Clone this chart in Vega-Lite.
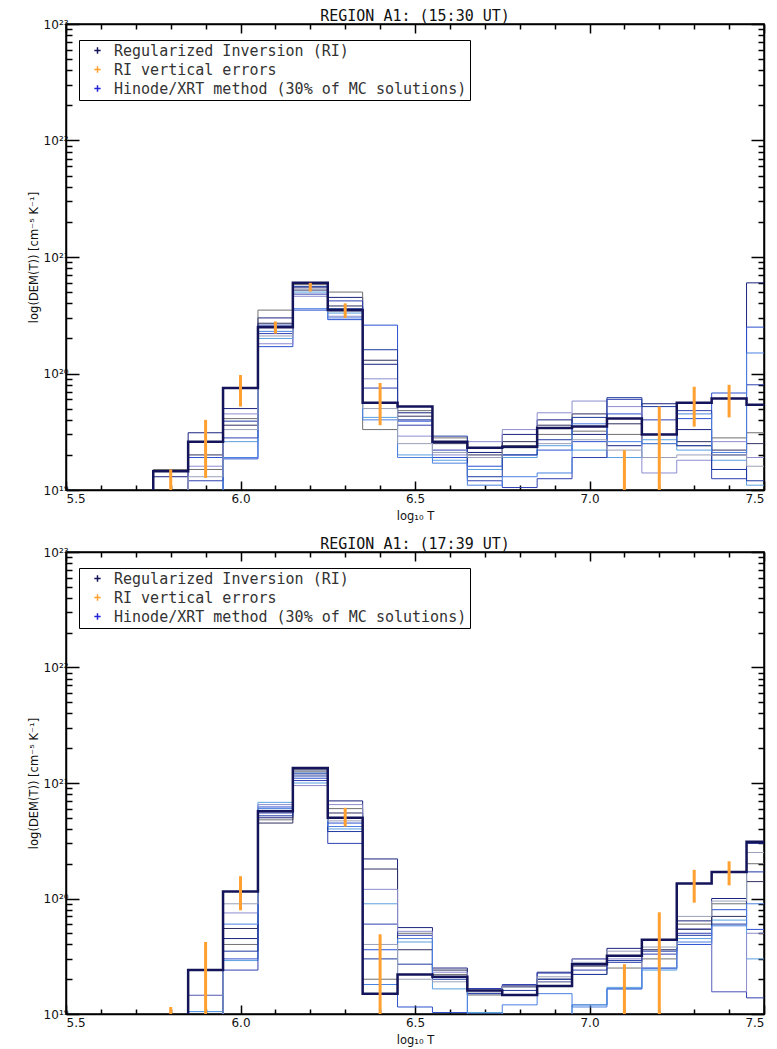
{
  "$schema": "https://vega.github.io/schema/vega-lite/v6.json",
  "background": "white",
  "padding": {"left": 27, "right": 8, "top": 8, "bottom": 2},
  "config": {
    "view": {"stroke": "black", "strokeWidth": 1.5},
    "font": "DejaVu Sans",
    "title": {"fontSize": 15, "fontWeight": "normal", "offset": -6, "color": "#111", "font": "DejaVu Sans Mono"},
    "axis": {"labelFont": "DejaVu Sans", "labelFontSize": 12, "titleFont": "DejaVu Sans", "titleFontSize": 11.5, "titleFontWeight": "normal", "domainColor": "black", "domainWidth": 1.5, "tickColor": "black", "tickWidth": 1.5, "grid": false, "labelColor": "#111", "titleColor": "#111"},
    "legend": {"orient": "none", "legendX": 13, "legendY": 16, "strokeColor": "black", "fillColor": "white", "padding": 3, "labelFontSize": 15, "labelFont": "DejaVu Sans Mono", "labelColor": "#333", "labelLimit": 600, "symbolType": "M-1,0H1M0,-1V1", "symbolSize": 40, "symbolStrokeWidth": 1.5, "rowPadding": 3, "labelOffset": 9, "symbolOffset": 8},
    "concat": {"spacing": 13}
  },
  "datasets": {
    "top": [
      {"s":"RI","T":5.65,"v":5e18},{"s":"RI","T":5.75,"v":1.45e19},{"s":"RI","T":5.85,"v":2.6e19},{"s":"RI","T":5.95,"v":7.5e19},{"s":"RI","T":6.05,"v":2.5e20},{"s":"RI","T":6.15,"v":6e20},{"s":"RI","T":6.25,"v":3.5e20},{"s":"RI","T":6.35,"v":5.6e19},{"s":"RI","T":6.45,"v":5.2e19},{"s":"RI","T":6.55,"v":2.6e19},{"s":"RI","T":6.65,"v":2.3e19},{"s":"RI","T":6.75,"v":2.35e19},{"s":"RI","T":6.85,"v":3.4e19},{"s":"RI","T":6.95,"v":3.5e19},{"s":"RI","T":7.05,"v":4.1e19},{"s":"RI","T":7.15,"v":3e19},{"s":"RI","T":7.25,"v":5.6e19},{"s":"RI","T":7.35,"v":6.1e19},{"s":"RI","T":7.45,"v":5.4e19},{"s":"RI","T":7.55,"v":5.4e19},
      {"s":"c1","T":5.65,"v":5e18},{"s":"c1","T":5.75,"v":1.3e19},{"s":"c1","T":5.85,"v":3.1e19},{"s":"c1","T":5.95,"v":5e19},{"s":"c1","T":6.05,"v":3e20},{"s":"c1","T":6.15,"v":5.5e20},{"s":"c1","T":6.25,"v":4.5e20},{"s":"c1","T":6.35,"v":1.2e20},{"s":"c1","T":6.45,"v":4.6e19},{"s":"c1","T":6.55,"v":2.6e19},{"s":"c1","T":6.65,"v":2.1e19},{"s":"c1","T":6.75,"v":3e19},{"s":"c1","T":6.85,"v":4e19},{"s":"c1","T":6.95,"v":3e19},{"s":"c1","T":7.05,"v":2.4e19},{"s":"c1","T":7.15,"v":5.5e19},{"s":"c1","T":7.25,"v":3.3e19},{"s":"c1","T":7.35,"v":2e19},{"s":"c1","T":7.45,"v":6e20},{"s":"c1","T":7.55,"v":6e20},
      {"s":"c2","T":5.65,"v":5e18},{"s":"c2","T":5.75,"v":5e18},{"s":"c2","T":5.85,"v":1.9e19},{"s":"c2","T":5.95,"v":1.85e19},{"s":"c2","T":6.05,"v":1.7e20},{"s":"c2","T":6.15,"v":3.5e20},{"s":"c2","T":6.25,"v":2.9e20},{"s":"c2","T":6.35,"v":2.6e20},{"s":"c2","T":6.45,"v":3.9e19},{"s":"c2","T":6.55,"v":1.9e19},{"s":"c2","T":6.65,"v":1.6e19},{"s":"c2","T":6.75,"v":2e19},{"s":"c2","T":6.85,"v":2.2e19},{"s":"c2","T":6.95,"v":2.6e19},{"s":"c2","T":7.05,"v":4.5e19},{"s":"c2","T":7.15,"v":3e19},{"s":"c2","T":7.25,"v":4.1e19},{"s":"c2","T":7.35,"v":6.8e19},{"s":"c2","T":7.45,"v":2.5e20},{"s":"c2","T":7.55,"v":2.5e20},
      {"s":"c3","T":5.65,"v":5e18},{"s":"c3","T":5.75,"v":1.5e19},{"s":"c3","T":5.85,"v":1.5e19},{"s":"c3","T":5.95,"v":4.1e19},{"s":"c3","T":6.05,"v":3.5e20},{"s":"c3","T":6.15,"v":5.8e20},{"s":"c3","T":6.25,"v":5e20},{"s":"c3","T":6.35,"v":3.3e19},{"s":"c3","T":6.45,"v":4.8e19},{"s":"c3","T":6.55,"v":2.8e19},{"s":"c3","T":6.65,"v":2.3e19},{"s":"c3","T":6.75,"v":2.4e19},{"s":"c3","T":6.85,"v":3e19},{"s":"c3","T":6.95,"v":3.2e19},{"s":"c3","T":7.05,"v":3e19},{"s":"c3","T":7.15,"v":2.5e19},{"s":"c3","T":7.25,"v":2.4e19},{"s":"c3","T":7.35,"v":2.8e19},{"s":"c3","T":7.45,"v":3.1e19},{"s":"c3","T":7.55,"v":3.1e19},
      {"s":"c4","T":5.65,"v":5e18},{"s":"c4","T":5.75,"v":5e18},{"s":"c4","T":5.85,"v":5e18},{"s":"c4","T":5.95,"v":2.6e19},{"s":"c4","T":6.05,"v":2e20},{"s":"c4","T":6.15,"v":5e20},{"s":"c4","T":6.25,"v":3.3e20},{"s":"c4","T":6.35,"v":4.2e19},{"s":"c4","T":6.45,"v":2e19},{"s":"c4","T":6.55,"v":1.8e19},{"s":"c4","T":6.65,"v":1.5e19},{"s":"c4","T":6.75,"v":1.9e19},{"s":"c4","T":6.85,"v":2.4e19},{"s":"c4","T":6.95,"v":2.2e19},{"s":"c4","T":7.05,"v":1.9e19},{"s":"c4","T":7.15,"v":2.7e19},{"s":"c4","T":7.25,"v":2.2e19},{"s":"c4","T":7.35,"v":1.8e19},{"s":"c4","T":7.45,"v":1.1e19},{"s":"c4","T":7.55,"v":1.1e19},
      {"s":"c5","T":5.65,"v":5e18},{"s":"c5","T":5.75,"v":5e18},{"s":"c5","T":5.85,"v":2e19},{"s":"c5","T":5.95,"v":3.6e19},{"s":"c5","T":6.05,"v":2.7e20},{"s":"c5","T":6.15,"v":5.2e20},{"s":"c5","T":6.25,"v":3.8e20},{"s":"c5","T":6.35,"v":1.3e20},{"s":"c5","T":6.45,"v":4.3e19},{"s":"c5","T":6.55,"v":2.5e19},{"s":"c5","T":6.65,"v":2e19},{"s":"c5","T":6.75,"v":2.6e19},{"s":"c5","T":6.85,"v":3.6e19},{"s":"c5","T":6.95,"v":4.5e19},{"s":"c5","T":7.05,"v":3.7e19},{"s":"c5","T":7.15,"v":3e19},{"s":"c5","T":7.25,"v":2.6e19},{"s":"c5","T":7.35,"v":2.2e19},{"s":"c5","T":7.45,"v":2.5e19},{"s":"c5","T":7.55,"v":2.5e19},
      {"s":"c6","T":5.65,"v":5e18},{"s":"c6","T":5.75,"v":5e18},{"s":"c6","T":5.85,"v":1.2e19},{"s":"c6","T":5.95,"v":2.8e19},{"s":"c6","T":6.05,"v":2.2e20},{"s":"c6","T":6.15,"v":4.8e20},{"s":"c6","T":6.25,"v":4.2e20},{"s":"c6","T":6.35,"v":7.5e19},{"s":"c6","T":6.45,"v":3.6e19},{"s":"c6","T":6.55,"v":2.2e19},{"s":"c6","T":6.65,"v":1.2e19},{"s":"c6","T":6.75,"v":1.05e19},{"s":"c6","T":6.85,"v":1.25e19},{"s":"c6","T":6.95,"v":1.9e19},{"s":"c6","T":7.05,"v":6e19},{"s":"c6","T":7.15,"v":4e19},{"s":"c6","T":7.25,"v":4.8e19},{"s":"c6","T":7.35,"v":1.25e19},{"s":"c6","T":7.45,"v":8e19},{"s":"c6","T":7.55,"v":8e19},
      {"s":"c7","T":5.65,"v":5e18},{"s":"c7","T":5.75,"v":5e18},{"s":"c7","T":5.85,"v":1.6e19},{"s":"c7","T":5.95,"v":4.5e19},{"s":"c7","T":6.05,"v":1.8e20},{"s":"c7","T":6.15,"v":4.6e20},{"s":"c7","T":6.25,"v":3.1e20},{"s":"c7","T":6.35,"v":9e19},{"s":"c7","T":6.45,"v":2.9e19},{"s":"c7","T":6.55,"v":2e19},{"s":"c7","T":6.65,"v":2.6e19},{"s":"c7","T":6.75,"v":3.3e19},{"s":"c7","T":6.85,"v":4.6e19},{"s":"c7","T":6.95,"v":5.8e19},{"s":"c7","T":7.05,"v":5.2e19},{"s":"c7","T":7.15,"v":1.4e19},{"s":"c7","T":7.25,"v":1.8e19},{"s":"c7","T":7.35,"v":2.6e19},{"s":"c7","T":7.45,"v":1.9e19},{"s":"c7","T":7.55,"v":1.9e19},
      {"s":"c8","T":5.65,"v":5e18},{"s":"c8","T":5.75,"v":5e18},{"s":"c8","T":5.85,"v":5e18},{"s":"c8","T":5.95,"v":3.9e19},{"s":"c8","T":6.05,"v":2.6e20},{"s":"c8","T":6.15,"v":5.6e20},{"s":"c8","T":6.25,"v":3.6e20},{"s":"c8","T":6.35,"v":1.6e20},{"s":"c8","T":6.45,"v":4e19},{"s":"c8","T":6.55,"v":2.9e19},{"s":"c8","T":6.65,"v":1.3e19},{"s":"c8","T":6.75,"v":2e19},{"s":"c8","T":6.85,"v":2.7e19},{"s":"c8","T":6.95,"v":4.2e19},{"s":"c8","T":7.05,"v":6.2e19},{"s":"c8","T":7.15,"v":5.2e19},{"s":"c8","T":7.25,"v":2.4e19},{"s":"c8","T":7.35,"v":1.5e19},{"s":"c8","T":7.45,"v":1.2e19},{"s":"c8","T":7.55,"v":1.2e19},
      {"s":"c9","T":5.65,"v":5e18},{"s":"c9","T":5.75,"v":5e18},{"s":"c9","T":5.85,"v":5e18},{"s":"c9","T":5.95,"v":1.9e19},{"s":"c9","T":6.05,"v":2.3e20},{"s":"c9","T":6.15,"v":3.6e20},{"s":"c9","T":6.25,"v":3e20},{"s":"c9","T":6.35,"v":4e19},{"s":"c9","T":6.45,"v":1.9e19},{"s":"c9","T":6.55,"v":1.7e19},{"s":"c9","T":6.65,"v":1.1e19},{"s":"c9","T":6.75,"v":1.3e19},{"s":"c9","T":6.85,"v":1.4e19},{"s":"c9","T":6.95,"v":3.7e19},{"s":"c9","T":7.05,"v":2.6e19},{"s":"c9","T":7.15,"v":2.5e19},{"s":"c9","T":7.25,"v":4.5e19},{"s":"c9","T":7.35,"v":2.1e19},{"s":"c9","T":7.45,"v":1.5e20},{"s":"c9","T":7.55,"v":1.5e20},
      {"s":"c10","T":5.65,"v":5e18},{"s":"c10","T":5.75,"v":5e18},{"s":"c10","T":5.85,"v":1.3e19},{"s":"c10","T":5.95,"v":3.3e19},{"s":"c10","T":6.05,"v":2.1e20},{"s":"c10","T":6.15,"v":5.4e20},{"s":"c10","T":6.25,"v":3.4e20},{"s":"c10","T":6.35,"v":5e19},{"s":"c10","T":6.45,"v":2.5e19},{"s":"c10","T":6.55,"v":2.1e19},{"s":"c10","T":6.65,"v":1.9e19},{"s":"c10","T":6.75,"v":2.3e19},{"s":"c10","T":6.85,"v":2.5e19},{"s":"c10","T":6.95,"v":2.7e19},{"s":"c10","T":7.05,"v":2.2e19},{"s":"c10","T":7.15,"v":1.9e19},{"s":"c10","T":7.25,"v":2e19},{"s":"c10","T":7.35,"v":2e19},{"s":"c10","T":7.45,"v":1.6e19},{"s":"c10","T":7.55,"v":1.6e19}
    ],
    "topErr": [
      {"T":5.8,"lo":1e19,"hi":1.5e19},{"T":5.9,"lo":1.27e19,"hi":4e19},{"T":6.0,"lo":5.2e19,"hi":9.7e19},{"T":6.1,"lo":2.2e20,"hi":2.8e20},{"T":6.2,"lo":5.05e20,"hi":6e20},{"T":6.3,"lo":3e20,"hi":4e20},{"T":6.4,"lo":3.6e19,"hi":8.3e19},{"T":7.1,"lo":1e19,"hi":2.2e19},{"T":7.2,"lo":1e19,"hi":5.2e19},{"T":7.3,"lo":3.5e19,"hi":7.7e19},{"T":7.4,"lo":4.2e19,"hi":8e19}
    ],
    "bot": [
      {"s":"RI","T":5.65,"v":5e18},{"s":"RI","T":5.75,"v":5e18},{"s":"RI","T":5.85,"v":2.4e19},{"s":"RI","T":5.95,"v":1.15e20},{"s":"RI","T":6.05,"v":5.7e20},{"s":"RI","T":6.15,"v":1.35e21},{"s":"RI","T":6.25,"v":5e20},{"s":"RI","T":6.35,"v":1.5e19},{"s":"RI","T":6.45,"v":2.2e19},{"s":"RI","T":6.55,"v":2.1e19},{"s":"RI","T":6.65,"v":1.6e19},{"s":"RI","T":6.75,"v":1.46e19},{"s":"RI","T":6.85,"v":1.75e19},{"s":"RI","T":6.95,"v":2.7e19},{"s":"RI","T":7.05,"v":3.2e19},{"s":"RI","T":7.15,"v":4.4e19},{"s":"RI","T":7.25,"v":1.35e20},{"s":"RI","T":7.35,"v":1.7e20},{"s":"RI","T":7.45,"v":3.1e20},{"s":"RI","T":7.55,"v":3.1e20},
      {"s":"c1","T":5.65,"v":5e18},{"s":"c1","T":5.75,"v":5e18},{"s":"c1","T":5.85,"v":1.45e19},{"s":"c1","T":5.95,"v":4.5e19},{"s":"c1","T":6.05,"v":5e20},{"s":"c1","T":6.15,"v":1.2e21},{"s":"c1","T":6.25,"v":7e20},{"s":"c1","T":6.35,"v":2.2e20},{"s":"c1","T":6.45,"v":5.6e19},{"s":"c1","T":6.55,"v":2.5e19},{"s":"c1","T":6.65,"v":1.66e19},{"s":"c1","T":6.75,"v":1.75e19},{"s":"c1","T":6.85,"v":2.3e19},{"s":"c1","T":6.95,"v":3e19},{"s":"c1","T":7.05,"v":3.7e19},{"s":"c1","T":7.15,"v":4.4e19},{"s":"c1","T":7.25,"v":6.4e19},{"s":"c1","T":7.35,"v":1e20},{"s":"c1","T":7.45,"v":3e20},{"s":"c1","T":7.55,"v":3e20},
      {"s":"c2","T":5.65,"v":5e18},{"s":"c2","T":5.75,"v":5e18},{"s":"c2","T":5.85,"v":1.05e19},{"s":"c2","T":5.95,"v":3e19},{"s":"c2","T":6.05,"v":6.2e20},{"s":"c2","T":6.15,"v":1.1e21},{"s":"c2","T":6.25,"v":4.5e20},{"s":"c2","T":6.35,"v":3.6e19},{"s":"c2","T":6.45,"v":1.15e19},{"s":"c2","T":6.55,"v":1.03e19},{"s":"c2","T":6.65,"v":5e18},{"s":"c2","T":6.75,"v":5e18},{"s":"c2","T":6.85,"v":5e18},{"s":"c2","T":6.95,"v":1.2e19},{"s":"c2","T":7.05,"v":1.65e19},{"s":"c2","T":7.15,"v":2.47e19},{"s":"c2","T":7.25,"v":4e19},{"s":"c2","T":7.35,"v":8e19},{"s":"c2","T":7.45,"v":5.4e19},{"s":"c2","T":7.55,"v":5.4e19},
      {"s":"c3","T":5.65,"v":5e18},{"s":"c3","T":5.75,"v":5e18},{"s":"c3","T":5.85,"v":5e18},{"s":"c3","T":5.95,"v":4e19},{"s":"c3","T":6.05,"v":4.8e20},{"s":"c3","T":6.15,"v":1.25e21},{"s":"c3","T":6.25,"v":6e20},{"s":"c3","T":6.35,"v":2e19},{"s":"c3","T":6.45,"v":5e19},{"s":"c3","T":6.55,"v":2.2e19},{"s":"c3","T":6.65,"v":1.46e19},{"s":"c3","T":6.75,"v":1.75e19},{"s":"c3","T":6.85,"v":1.9e19},{"s":"c3","T":6.95,"v":2.2e19},{"s":"c3","T":7.05,"v":2.5e19},{"s":"c3","T":7.15,"v":3e19},{"s":"c3","T":7.25,"v":6e19},{"s":"c3","T":7.35,"v":9e19},{"s":"c3","T":7.45,"v":2e20},{"s":"c3","T":7.55,"v":2e20},
      {"s":"c4","T":5.65,"v":5e18},{"s":"c4","T":5.75,"v":5e18},{"s":"c4","T":5.85,"v":1.05e19},{"s":"c4","T":5.95,"v":2.9e19},{"s":"c4","T":6.05,"v":6.8e20},{"s":"c4","T":6.15,"v":1e21},{"s":"c4","T":6.25,"v":4e20},{"s":"c4","T":6.35,"v":9e19},{"s":"c4","T":6.45,"v":4.2e19},{"s":"c4","T":6.55,"v":1.65e19},{"s":"c4","T":6.65,"v":1.03e19},{"s":"c4","T":6.75,"v":5e18},{"s":"c4","T":6.85,"v":5e18},{"s":"c4","T":6.95,"v":1.2e19},{"s":"c4","T":7.05,"v":1.7e19},{"s":"c4","T":7.15,"v":2.4e19},{"s":"c4","T":7.25,"v":4.5e19},{"s":"c4","T":7.35,"v":6.5e19},{"s":"c4","T":7.45,"v":3e19},{"s":"c4","T":7.55,"v":3e19},
      {"s":"c5","T":5.65,"v":5e18},{"s":"c5","T":5.75,"v":5e18},{"s":"c5","T":5.85,"v":5e18},{"s":"c5","T":5.95,"v":5.5e19},{"s":"c5","T":6.05,"v":4.5e20},{"s":"c5","T":6.15,"v":1.3e21},{"s":"c5","T":6.25,"v":5.5e20},{"s":"c5","T":6.35,"v":1.8e20},{"s":"c5","T":6.45,"v":3.6e19},{"s":"c5","T":6.55,"v":2.4e19},{"s":"c5","T":6.65,"v":1.66e19},{"s":"c5","T":6.75,"v":1.75e19},{"s":"c5","T":6.85,"v":2e19},{"s":"c5","T":6.95,"v":2.6e19},{"s":"c5","T":7.05,"v":3.2e19},{"s":"c5","T":7.15,"v":3.6e19},{"s":"c5","T":7.25,"v":5.4e19},{"s":"c5","T":7.35,"v":7e19},{"s":"c5","T":7.45,"v":1.4e20},{"s":"c5","T":7.55,"v":1.4e20},
      {"s":"c6","T":5.65,"v":5e18},{"s":"c6","T":5.75,"v":5e18},{"s":"c6","T":5.85,"v":5e18},{"s":"c6","T":5.95,"v":2.4e19},{"s":"c6","T":6.05,"v":5.5e20},{"s":"c6","T":6.15,"v":1.05e21},{"s":"c6","T":6.25,"v":3e20},{"s":"c6","T":6.35,"v":6e19},{"s":"c6","T":6.45,"v":4.8e19},{"s":"c6","T":6.55,"v":2.1e19},{"s":"c6","T":6.65,"v":1.66e19},{"s":"c6","T":6.75,"v":1.8e19},{"s":"c6","T":6.85,"v":2.26e19},{"s":"c6","T":6.95,"v":2.4e19},{"s":"c6","T":7.05,"v":2.8e19},{"s":"c6","T":7.15,"v":3.3e19},{"s":"c6","T":7.25,"v":5e19},{"s":"c6","T":7.35,"v":1.56e19},{"s":"c6","T":7.45,"v":1.38e19},{"s":"c6","T":7.55,"v":1.38e19},
      {"s":"c7","T":5.65,"v":5e18},{"s":"c7","T":5.75,"v":5e18},{"s":"c7","T":5.85,"v":1.45e19},{"s":"c7","T":5.95,"v":7.5e19},{"s":"c7","T":6.05,"v":6.5e20},{"s":"c7","T":6.15,"v":9.5e20},{"s":"c7","T":6.25,"v":6.5e20},{"s":"c7","T":6.35,"v":1.2e20},{"s":"c7","T":6.45,"v":5.2e19},{"s":"c7","T":6.55,"v":2.3e19},{"s":"c7","T":6.65,"v":1.5e19},{"s":"c7","T":6.75,"v":1.75e19},{"s":"c7","T":6.85,"v":1.9e19},{"s":"c7","T":6.95,"v":3e19},{"s":"c7","T":7.05,"v":3e19},{"s":"c7","T":7.15,"v":2.5e19},{"s":"c7","T":7.25,"v":5.5e19},{"s":"c7","T":7.35,"v":1.56e19},{"s":"c7","T":7.45,"v":5e19},{"s":"c7","T":7.55,"v":5e19},
      {"s":"c8","T":5.65,"v":5e18},{"s":"c8","T":5.75,"v":5e18},{"s":"c8","T":5.85,"v":5e18},{"s":"c8","T":5.95,"v":3.5e19},{"s":"c8","T":6.05,"v":5.2e20},{"s":"c8","T":6.15,"v":1.15e21},{"s":"c8","T":6.25,"v":3.8e20},{"s":"c8","T":6.35,"v":3e19},{"s":"c8","T":6.45,"v":2.7e19},{"s":"c8","T":6.55,"v":2e19},{"s":"c8","T":6.65,"v":1.5e19},{"s":"c8","T":6.75,"v":1.6e19},{"s":"c8","T":6.85,"v":2e19},{"s":"c8","T":6.95,"v":2.2e19},{"s":"c8","T":7.05,"v":2.9e19},{"s":"c8","T":7.15,"v":3.5e19},{"s":"c8","T":7.25,"v":4.8e19},{"s":"c8","T":7.35,"v":6e19},{"s":"c8","T":7.45,"v":1.7e20},{"s":"c8","T":7.55,"v":1.7e20},
      {"s":"c9","T":5.65,"v":5e18},{"s":"c9","T":5.75,"v":5e18},{"s":"c9","T":5.85,"v":5e18},{"s":"c9","T":5.95,"v":6e19},{"s":"c9","T":6.05,"v":6e20},{"s":"c9","T":6.15,"v":1.22e21},{"s":"c9","T":6.25,"v":4.2e20},{"s":"c9","T":6.35,"v":1.8e19},{"s":"c9","T":6.45,"v":4.5e19},{"s":"c9","T":6.55,"v":2.1e19},{"s":"c9","T":6.65,"v":1e19},{"s":"c9","T":6.75,"v":1.2e19},{"s":"c9","T":6.85,"v":1.5e19},{"s":"c9","T":6.95,"v":1.15e19},{"s":"c9","T":7.05,"v":1.65e19},{"s":"c9","T":7.15,"v":2.5e19},{"s":"c9","T":7.25,"v":4.2e19},{"s":"c9","T":7.35,"v":5.8e19},{"s":"c9","T":7.45,"v":9e19},{"s":"c9","T":7.55,"v":9e19},
      {"s":"c10","T":5.65,"v":5e18},{"s":"c10","T":5.75,"v":5e18},{"s":"c10","T":5.85,"v":5e18},{"s":"c10","T":5.95,"v":9e19},{"s":"c10","T":6.05,"v":5.8e20},{"s":"c10","T":6.15,"v":1.28e21},{"s":"c10","T":6.25,"v":4.7e20},{"s":"c10","T":6.35,"v":4e19},{"s":"c10","T":6.45,"v":2e19},{"s":"c10","T":6.55,"v":1.9e19},{"s":"c10","T":6.65,"v":1.55e19},{"s":"c10","T":6.75,"v":1.7e19},{"s":"c10","T":6.85,"v":2.1e19},{"s":"c10","T":6.95,"v":2.8e19},{"s":"c10","T":7.05,"v":3.5e19},{"s":"c10","T":7.15,"v":3.8e19},{"s":"c10","T":7.25,"v":7e19},{"s":"c10","T":7.35,"v":9.5e19},{"s":"c10","T":7.45,"v":2.5e20},{"s":"c10","T":7.55,"v":2.5e20}
    ],
    "botErr": [
      {"T":5.8,"lo":1e19,"hi":1.15e19},{"T":5.9,"lo":1e19,"hi":4.2e19},{"T":6.0,"lo":7.9e19,"hi":1.56e20},{"T":6.3,"lo":4.2e20,"hi":6.1e20},{"T":6.4,"lo":1e19,"hi":4.9e19},{"T":7.1,"lo":1e19,"hi":2.7e19},{"T":7.2,"lo":1e19,"hi":7.6e19},{"T":7.3,"lo":9.2e19,"hi":1.77e20},{"T":7.4,"lo":1.3e20,"hi":2.1e20}
    ]
  },
  "vconcat": [
    {
      "title": "REGION A1: (15:30 UT)",
      "width": 698,
      "height": 466,
      "layer": [
        {
          "data": {"name": "top"},
          "transform": [{"filter": "datum.s != 'RI'"}],
          "mark": {"type": "line", "interpolate": "step-after", "clip": true, "strokeWidth": 1},
          "encoding": {
            "x": {"field": "T", "type": "quantitative", "scale": {"domain": [5.5, 7.5], "nice": false, "zero": false},
              "axis": {"title": "log₁₀ T", "titlePadding": 6, "values": [5.5,5.6,5.7,5.8,5.9,6.0,6.1,6.2,6.3,6.4,6.5,6.6,6.7,6.8,6.9,7.0,7.1,7.2,7.3,7.4,7.5],
                "labelExpr": "abs(datum.value*2-round(datum.value*2))<0.001 ? format(datum.value,'.1f') : ''",
                "tickSize": {"condition": {"test": "abs(datum.value*2-round(datum.value*2))<0.001", "value": -9}, "value": -5}, "labelPadding": 12}},
            "y": {"field": "v", "type": "quantitative", "scale": {"type": "log", "domain": [1e19, 1e23], "nice": false},
              "axis": {"title": "log(DEM(T)) [cm⁻⁵ K⁻¹]", "titlePadding": 4, "labelFontSize": 12,
                "values": [1e19,2e19,3e19,4e19,5e19,6e19,7e19,8e19,9e19,1e20,2e20,3e20,4e20,5e20,6e20,7e20,8e20,9e20,1e21,2e21,3e21,4e21,5e21,6e21,7e21,8e21,9e21,1e22,2e22,3e22,4e22,5e22,6e22,7e22,8e22,9e22,1e23],
                "labelExpr": "datum.value==1e19?'10¹⁹':datum.value==1e20?'10²⁰':datum.value==1e21?'10²¹':datum.value==1e22?'10²²':datum.value==1e23?'10²³':''",
                "tickSize": {"condition": {"test": "abs(log(datum.value)/LN10-round(log(datum.value)/LN10))<0.001", "value": -13}, "value": -6}, "labelPadding": 11}},
            "stroke": {"field": "s", "type": "nominal", "scale": {"domain": ["c1","c2","c3","c4","c5","c6","c7","c8","c9","c10"], "range": ["#1a237e","#2b50d0","#707070","#5aa0e0","#303060","#3040b0","#8c8cd0","#1e3aa0","#4a80e0","#9aa0b8"]}, "legend": null},
            "color": {"datum": "Hinode/XRT method (30% of MC solutions)"}
          }
        },
        {
          "data": {"name": "top"},
          "transform": [{"filter": "datum.s == 'RI'"}],
          "mark": {"type": "line", "interpolate": "step-after", "clip": true, "strokeWidth": 2.5},
          "encoding": {
            "x": {"field": "T", "type": "quantitative", "axis": null},
            "y": {"field": "v", "type": "quantitative", "axis": null},
            "color": {"datum": "Regularized Inversion (RI)", "type": "nominal",
              "scale": {"domain": ["Regularized Inversion (RI)", "RI vertical errors", "Hinode/XRT method (30% of MC solutions)"], "range": ["#14145a", "#ffa030", "#2424d8"]},
              "legend": {"title": null}}
          }
        },
        {
          "data": {"name": "topErr"},
          "mark": {"type": "rule", "clip": true, "strokeWidth": 3},
          "encoding": {
            "x": {"field": "T", "type": "quantitative",
              "axis": {"orient": "top", "labels": false, "title": null, "values": [5.5,5.6,5.7,5.8,5.9,6.0,6.1,6.2,6.3,6.4,6.5,6.6,6.7,6.8,6.9,7.0,7.1,7.2,7.3,7.4,7.5],
                "tickSize": {"condition": {"test": "abs(datum.value*2-round(datum.value*2))<0.001", "value": -9}, "value": -5}}},
            "y": {"field": "lo", "type": "quantitative",
              "axis": {"orient": "right", "labels": false, "title": null,
                "values": [1e19,2e19,3e19,4e19,5e19,6e19,7e19,8e19,9e19,1e20,2e20,3e20,4e20,5e20,6e20,7e20,8e20,9e20,1e21,2e21,3e21,4e21,5e21,6e21,7e21,8e21,9e21,1e22,2e22,3e22,4e22,5e22,6e22,7e22,8e22,9e22,1e23],
                "tickSize": {"condition": {"test": "abs(log(datum.value)/LN10-round(log(datum.value)/LN10))<0.001", "value": -13}, "value": -6}}},
            "y2": {"field": "hi"},
            "color": {"datum": "RI vertical errors"}
          }
        }
      ],
      "resolve": {"axis": {"x": "independent", "y": "independent"}}
    },
    {
      "title": "REGION A1: (17:39 UT)",
      "width": 698,
      "height": 462,
      "layer": [
        {
          "data": {"name": "bot"},
          "transform": [{"filter": "datum.s != 'RI'"}],
          "mark": {"type": "line", "interpolate": "step-after", "clip": true, "strokeWidth": 1},
          "encoding": {
            "x": {"field": "T", "type": "quantitative", "scale": {"domain": [5.5, 7.5], "nice": false, "zero": false},
              "axis": {"title": "log₁₀ T", "titlePadding": 6, "values": [5.5,5.6,5.7,5.8,5.9,6.0,6.1,6.2,6.3,6.4,6.5,6.6,6.7,6.8,6.9,7.0,7.1,7.2,7.3,7.4,7.5],
                "labelExpr": "abs(datum.value*2-round(datum.value*2))<0.001 ? format(datum.value,'.1f') : ''",
                "tickSize": {"condition": {"test": "abs(datum.value*2-round(datum.value*2))<0.001", "value": -9}, "value": -5}, "labelPadding": 12}},
            "y": {"field": "v", "type": "quantitative", "scale": {"type": "log", "domain": [1e19, 1e23], "nice": false},
              "axis": {"title": "log(DEM(T)) [cm⁻⁵ K⁻¹]", "titlePadding": 4, "labelFontSize": 12,
                "values": [1e19,2e19,3e19,4e19,5e19,6e19,7e19,8e19,9e19,1e20,2e20,3e20,4e20,5e20,6e20,7e20,8e20,9e20,1e21,2e21,3e21,4e21,5e21,6e21,7e21,8e21,9e21,1e22,2e22,3e22,4e22,5e22,6e22,7e22,8e22,9e22,1e23],
                "labelExpr": "datum.value==1e19?'10¹⁹':datum.value==1e20?'10²⁰':datum.value==1e21?'10²¹':datum.value==1e22?'10²²':datum.value==1e23?'10²³':''",
                "tickSize": {"condition": {"test": "abs(log(datum.value)/LN10-round(log(datum.value)/LN10))<0.001", "value": -13}, "value": -6}, "labelPadding": 11}},
            "stroke": {"field": "s", "type": "nominal", "scale": {"domain": ["c1","c2","c3","c4","c5","c6","c7","c8","c9","c10"], "range": ["#1a237e","#2b50d0","#707070","#5aa0e0","#303060","#3040b0","#8c8cd0","#1e3aa0","#4a80e0","#9aa0b8"]}, "legend": null},
            "color": {"datum": "Hinode/XRT method (30% of MC solutions)"}
          }
        },
        {
          "data": {"name": "bot"},
          "transform": [{"filter": "datum.s == 'RI'"}],
          "mark": {"type": "line", "interpolate": "step-after", "clip": true, "strokeWidth": 2.5},
          "encoding": {
            "x": {"field": "T", "type": "quantitative", "axis": null},
            "y": {"field": "v", "type": "quantitative", "axis": null},
            "color": {"datum": "Regularized Inversion (RI)", "type": "nominal",
              "scale": {"domain": ["Regularized Inversion (RI)", "RI vertical errors", "Hinode/XRT method (30% of MC solutions)"], "range": ["#14145a", "#ffa030", "#2424d8"]},
              "legend": {"title": null}}
          }
        },
        {
          "data": {"name": "botErr"},
          "mark": {"type": "rule", "clip": true, "strokeWidth": 3},
          "encoding": {
            "x": {"field": "T", "type": "quantitative",
              "axis": {"orient": "top", "labels": false, "title": null, "values": [5.5,5.6,5.7,5.8,5.9,6.0,6.1,6.2,6.3,6.4,6.5,6.6,6.7,6.8,6.9,7.0,7.1,7.2,7.3,7.4,7.5],
                "tickSize": {"condition": {"test": "abs(datum.value*2-round(datum.value*2))<0.001", "value": -9}, "value": -5}}},
            "y": {"field": "lo", "type": "quantitative",
              "axis": {"orient": "right", "labels": false, "title": null,
                "values": [1e19,2e19,3e19,4e19,5e19,6e19,7e19,8e19,9e19,1e20,2e20,3e20,4e20,5e20,6e20,7e20,8e20,9e20,1e21,2e21,3e21,4e21,5e21,6e21,7e21,8e21,9e21,1e22,2e22,3e22,4e22,5e22,6e22,7e22,8e22,9e22,1e23],
                "tickSize": {"condition": {"test": "abs(log(datum.value)/LN10-round(log(datum.value)/LN10))<0.001", "value": -13}, "value": -6}}},
            "y2": {"field": "hi"},
            "color": {"datum": "RI vertical errors"}
          }
        }
      ],
      "resolve": {"axis": {"x": "independent", "y": "independent"}}
    }
  ],
  "resolve": {"scale": {"color": "independent", "stroke": "independent"}}
}
